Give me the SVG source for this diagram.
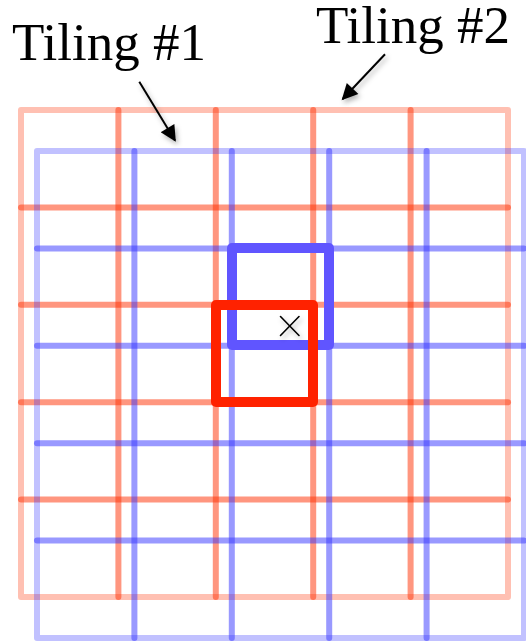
<svg xmlns="http://www.w3.org/2000/svg" width="526" height="642" viewBox="0 0 526 642">
  <style>
    .lbl { font-family: "Liberation Serif", "Times New Roman", serif; font-size: 53px; fill: #000; }
    .rOuter { fill: none; stroke: #FF2D00; stroke-opacity: 0.3; stroke-width: 6; stroke-linejoin: round; }
    .rLine { stroke: #FF2D00; stroke-opacity: 0.5; stroke-width: 6; stroke-linecap: round; }
    .bOuter { fill: none; stroke: #3333FF; stroke-opacity: 0.3; stroke-width: 6; stroke-linejoin: round; }
    .bLine { stroke: #3333FF; stroke-opacity: 0.5; stroke-width: 6; stroke-linecap: round; }
    .arrow { stroke: #000; stroke-width: 2; fill: none; }
    .cross { stroke: #000; stroke-width: 1.6; stroke-linecap: round; }
  </style>
  <defs>
    <filter id="shadow" x="-50%" y="-50%" width="200%" height="200%">
      <feDropShadow dx="2" dy="3" stdDeviation="2.5" flood-color="#000" flood-opacity="0.3"/>
    </filter>
    <marker id="head" viewBox="0 0 10 10" refX="9" refY="5" markerWidth="9" markerHeight="8" markerUnits="strokeWidth" orient="auto">
      <path d="M0,0 L10,5 L0,10 z" fill="#000"/>
    </marker>
  </defs>

  <g id="tiling1">
    <rect class="rOuter" x="21" y="110" width="487" height="487"/>
    <line class="rLine" x1="118.4" y1="110" x2="118.4" y2="597"/>
    <line class="rLine" x1="215.8" y1="110" x2="215.8" y2="597"/>
    <line class="rLine" x1="313.2" y1="110" x2="313.2" y2="597"/>
    <line class="rLine" x1="410.6" y1="110" x2="410.6" y2="597"/>
    <line class="rLine" x1="21" y1="207.4" x2="508" y2="207.4"/>
    <line class="rLine" x1="21" y1="304.8" x2="508" y2="304.8"/>
    <line class="rLine" x1="21" y1="402.2" x2="508" y2="402.2"/>
    <line class="rLine" x1="21" y1="499.6" x2="508" y2="499.6"/>
  </g>

  <g id="tiling2">
    <rect class="bOuter" x="37" y="151" width="487" height="487"/>
    <line class="bLine" x1="134.4" y1="151" x2="134.4" y2="638"/>
    <line class="bLine" x1="231.8" y1="151" x2="231.8" y2="638"/>
    <line class="bLine" x1="329.2" y1="151" x2="329.2" y2="638"/>
    <line class="bLine" x1="426.6" y1="151" x2="426.6" y2="638"/>
    <line class="bLine" x1="37" y1="248.4" x2="524" y2="248.4"/>
    <line class="bLine" x1="37" y1="345.8" x2="524" y2="345.8"/>
    <line class="bLine" x1="37" y1="443.2" x2="524" y2="443.2"/>
    <line class="bLine" x1="37" y1="540.6" x2="524" y2="540.6"/>
  </g>

  <g id="tile2-highlight">
    <rect x="232" y="248" width="97" height="97" fill="none" stroke="#6055FF" stroke-width="10" stroke-linejoin="round"/>
  </g>
  <g id="tile1-highlight">
    <rect x="216" y="305" width="97" height="97" fill="none" stroke="#FF2200" stroke-width="10" stroke-linejoin="round"/>
  </g>

  <g id="point" filter="url(#shadow)">
    <line class="cross" x1="280.5" y1="316.5" x2="299" y2="335.5"/>
    <line class="cross" x1="299" y1="316.5" x2="280.5" y2="335.5"/>
  </g>

  <g id="label1">
    <text class="lbl" x="12" y="59.5">Tiling #1</text>
  </g>
  <g id="label2">
    <text class="lbl" x="316" y="42.5">Tiling #2</text>
  </g>

  <g id="connectors" filter="url(#shadow)">
    <line class="arrow" x1="139.3" y1="81.7" x2="175" y2="140.5" marker-end="url(#head)"/>
    <line class="arrow" x1="385" y1="54.3" x2="342.7" y2="99" marker-end="url(#head)"/>
  </g>
</svg>
